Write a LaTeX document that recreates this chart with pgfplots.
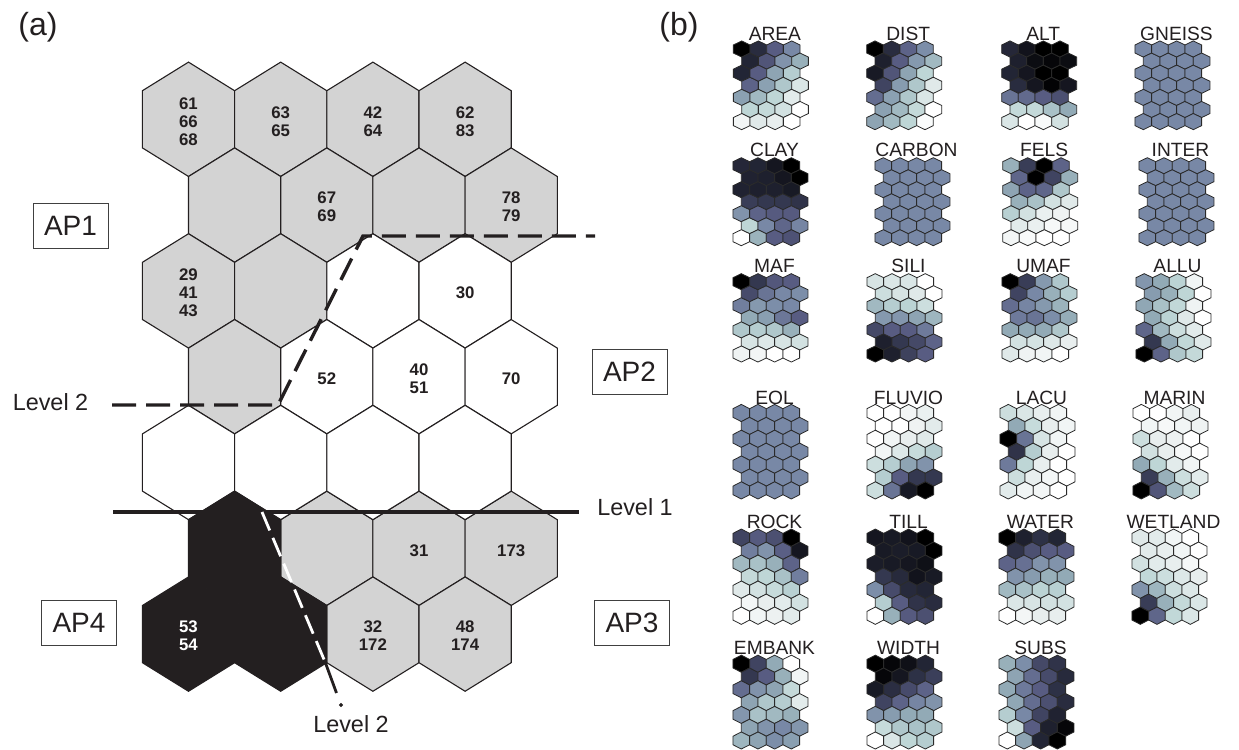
\documentclass[border=0pt]{standalone}
\usepackage{pgfplots}
\pgfplotsset{compat=1.18}
\usepackage{pgfplotstable}
\usepackage{fontspec}
\setmainfont{Liberation Sans}

\definecolor{txt}{HTML}{231F20}
\definecolor{hexgray}{HTML}{D3D3D3}
\definecolor{hexline}{HTML}{2A2A2A}

% pointy-topped hexagon, half-width = mark size
\pgfdeclareplotmark{hexagon}{%
  \pgfpathmoveto{\pgfqpoint{0pt}{1.1547\pgfplotmarksize}}%
  \pgfpathlineto{\pgfqpoint{-\pgfplotmarksize}{0.57735\pgfplotmarksize}}%
  \pgfpathlineto{\pgfqpoint{-\pgfplotmarksize}{-0.57735\pgfplotmarksize}}%
  \pgfpathlineto{\pgfqpoint{0pt}{-1.1547\pgfplotmarksize}}%
  \pgfpathlineto{\pgfqpoint{\pgfplotmarksize}{-0.57735\pgfplotmarksize}}%
  \pgfpathlineto{\pgfqpoint{\pgfplotmarksize}{0.57735\pgfplotmarksize}}%
  \pgfpathclose
  \pgfusepathqfillstroke}

% component planes: row r, columns c1..c4 (0 = low, 10 = high)
\pgfplotstableread{
r c1 c2 c3 c4
1 10 8.5 6.5 5.2
2 8.8 6.8 4.8 3.8
3 8.8 6.5 4.2 2.8
4 6.3 4.3 3.0 1.5
5 4.3 3.5 2.5 1.2
6 2.5 2.3 1.8 0
7 0.5 1.3 1.0 0
}\tAREA
\pgfplotstableread{
r c1 c2 c3 c4
1 10 8.5 6.3 5.0
2 9.0 6.5 4.6 3.5
3 9.2 6.8 4.2 2.5
4 7.5 4.5 3.0 1.3
5 6.0 4.3 3.0 1.5
6 4.3 3.5 2.3 0
7 4.2 3.5 2.5 0.2
}\tDIST
\pgfplotstableread{
r c1 c2 c3 c4
1 8.7 9.4 10 10
2 9.0 9.6 9.8 9.6
3 8.8 9.3 10 10
4 8.5 9.3 9.9 9.3
5 5.8 6.1 6.5 7.0
6 2.3 2.3 3.2 4.0
7 1.5 0 0.3 1.8
}\tALT
\pgfplotstableread{
r c1 c2 c3 c4
1 5.2 5.2 5.2 5.2
2 5.2 5.2 5.2 5.2
3 5.2 5.2 5.2 5.2
4 5.2 5.2 5.2 5.2
5 5.2 5.2 5.2 5.2
6 5.2 5.2 5.2 5.2
7 5.2 5.2 5.2 5.2
}\tGNEISS
\pgfplotstableread{
r c1 c2 c3 c4
1 8.7 8.8 9.3 10
2 8.9 9.0 9.3 10
3 8.9 9.0 9.0 9.2
4 7.8 8.0 8.0 8.2
5 4.8 6.3 6.6 6.6
6 2.5 5.2 6.2 5.3
7 0 3.7 6.5 6.9
}\tCLAY
\pgfplotstableread{
r c1 c2 c3 c4
1 5.2 5.2 5.2 5.2
2 5.2 5.2 5.2 5.2
3 5.2 5.2 5.2 5.2
4 5.2 5.2 5.2 5.2
5 5.2 5.2 5.2 5.2
6 5.2 5.2 5.2 5.2
7 5.2 5.2 5.2 5.2
}\tCARBON
\pgfplotstableread{
r c1 c2 c3 c4
1 3.8 7.8 10 6.3
2 6.2 10 7.5 3.8
3 4.2 6.3 6.2 3.0
4 3.8 3.2 1.8 1.3
5 2.7 1.8 0.9 0.7
6 1.2 0.9 0.4 0.4
7 0.5 0.3 0 0
}\tFELS
\pgfplotstableread{
r c1 c2 c3 c4
1 5.2 5.2 5.2 5.2
2 5.2 5.2 5.2 5.2
3 5.2 5.2 5.2 5.2
4 5.2 5.2 5.2 5.2
5 5.2 5.2 5.2 5.2
6 5.2 5.2 5.2 5.2
7 5.2 5.2 5.2 5.2
}\tINTER
\pgfplotstableread{
r c1 c2 c3 c4
1 10 8.0 6.7 6.5
2 7.2 5.8 5.2 5.0
3 5.5 4.6 5.0 5.2
4 4.0 4.4 5.7 6.5
5 3.0 2.8 3.0 3.8
6 1.6 1.4 1.6 1.8
7 0.7 0.5 0 0
}\tMAF
\pgfplotstableread{
r c1 c2 c3 c4
1 1.6 1.5 1.5 0
2 2.0 1.6 1.3 0
3 3.5 2.8 2.6 2.0
4 4.6 4.7 4.2 3.6
5 7.3 6.5 6.5 5.6
6 9.0 8.0 7.3 6.3
7 10 9.0 7.6 6.5
}\tSILI
\pgfplotstableread{
r c1 c2 c3 c4
1 10 7.8 4.6 3.0
2 7.5 5.2 3.8 2.8
3 6.0 5.3 4.6 3.7
4 5.6 5.8 5.0 3.9
5 4.0 4.0 4.0 3.0
6 1.8 1.7 1.4 1.0
7 1.3 0.7 0.6 0
}\tUMAF
\pgfplotstableread{
r c1 c2 c3 c4
1 4.7 4.0 2.6 0.6
2 4.5 3.8 2.5 0
3 4.1 3.2 2.4 0.7
4 4.0 2.6 1.3 0
5 6.2 3.5 2.0 1.2
6 8.0 4.0 2.4 1.3
7 10 6.3 3.0 2.3
}\tALLU
\pgfplotstableread{
r c1 c2 c3 c4
1 5.2 5.2 5.2 5.2
2 5.2 5.2 5.2 5.2
3 5.2 5.2 5.2 5.2
4 5.2 5.2 5.2 5.2
5 5.2 5.2 5.2 5.2
6 5.2 5.2 5.2 5.2
7 5.2 5.2 5.2 5.2
}\tEOL
\pgfplotstableread{
r c1 c2 c3 c4
1 0 0 0.5 0.9
2 0 0 0.7 1.2
3 0 0.6 1.0 1.3
4 0.6 1.4 2.2 2.8
5 2.0 2.8 4.2 4.8
6 2.8 6.5 8.0 8.0
7 2.0 5.8 9.2 10
}\tFLUVIO
\pgfplotstableread{
r c1 c2 c3 c4
1 2.0 1.5 1.0 0.6
2 4.0 2.2 1.0 0.6
3 10 5.8 1.6 0.6
4 8.2 2.8 1.0 0
5 5.6 2.5 1.0 0
6 2.0 1.0 0.5 0
7 1.2 0.6 0.5 0
}\tLACU
\pgfplotstableread{
r c1 c2 c3 c4
1 0 0 0.6 1.0
2 0.6 0.4 0.6 0.7
3 2.0 1.0 0.8 0
4 1.8 1.0 0.4 0
5 4.0 2.5 1.2 0.6
6 7.8 3.8 2.0 1.2
7 10 6.8 3.5 2.0
}\tMARIN
\pgfplotstableread{
r c1 c2 c3 c4
1 7.5 6.6 7.0 10
2 5.5 4.8 6.4 9.3
3 3.5 3.2 3.8 6.3
4 2.3 2.5 3.2 5.5
5 1.3 1.8 2.2 2.7
6 0.5 1.0 1.2 1.8
7 0 0.6 0.8 1.2
}\tROCK
\pgfplotstableread{
r c1 c2 c3 c4
1 9.3 9.2 9.4 10
2 9.2 9.1 9.2 10
3 9.1 9.2 9.3 9.5
4 8.0 8.6 9.4 9.2
5 5.0 7.2 8.6 8.8
6 2.8 6.5 8.2 8.5
7 0 3.8 6.6 7.0
}\tTILL
\pgfplotstableread{
r c1 c2 c3 c4
1 10 9.0 8.3 8.8
2 8.2 7.0 6.5 6.5
3 6.3 5.9 4.8 4.8
4 4.8 4.5 3.8 4.0
5 3.5 3.2 2.6 2.7
6 1.5 1.6 1.8 1.8
7 0 0.5 1.0 1.0
}\tWATER
\pgfplotstableread{
r c1 c2 c3 c4
1 1.3 1.2 0.6 0
2 1.2 1.0 0.6 0
3 1.8 1.2 1.0 0.4
4 2.4 2.0 1.4 1.0
5 4.8 3.6 2.0 1.4
6 7.8 3.8 2.3 1.5
7 10 6.2 2.4 1.5
}\tWETLAND
\pgfplotstableread{
r c1 c2 c3 c4
1 10 7.5 4.0 0
2 8.0 6.5 3.8 0.6
3 6.0 4.8 4.2 2.3
4 4.2 3.0 2.8 1.2
5 4.7 3.2 3.5 3.8
6 4.2 4.8 5.2 4.7
7 3.6 4.2 5.0 4.4
}\tEMBANK
\pgfplotstableread{
r c1 c2 c3 c4
1 10 9.8 9.5 8.8
2 9.8 9.3 8.3 7.7
3 9.2 8.4 7.2 6.3
4 7.5 6.3 5.3 4.8
5 4.8 4.5 4.0 4.0
6 2.2 3.0 3.2 3.0
7 0 1.5 2.5 2.8
}\tWIDTH
\pgfplotstableread{
r c1 c2 c3 c4
1 3.8 5.0 7.3 8.2
2 4.2 6.0 7.2 8.6
3 4.0 5.6 6.5 8.3
4 4.1 6.0 7.0 8.5
5 2.8 5.2 7.5 8.9
6 2.0 6.5 9.0 9.8
7 0 4.2 8.8 10
}\tSUBS

\pgfplotsset{
  smallhex/.style={scatter, only marks, mark=hexagon, mark size=4.167pt,
    point meta=explicit,
    scatter/use mapped color={draw=hexline, fill=mapped color},
    mark options={line width=0.4pt, yscale=#1/14.43}},
  bighex/.style={only marks, mark=hexagon, mark size=23.05pt,
    mark options={draw=txt, fill=#1, line width=0.55pt, yscale=1.074}},
}
\tikzset{
  maptitle/.style={anchor=base, text=txt, font=\fontsize{9.6}{10}\selectfont, inner sep=0pt},
  cellnum/.style={align=center, text=txt, inner sep=0pt,
    font=\fontsize{8.4}{9}\selectfont\bfseries},
  apbox/.style={draw=black!75, line width=0.5pt, minimum width=37.5pt,
    minimum height=22.5pt, inner sep=0pt, text=txt,
    font=\fontsize{14}{16}\selectfont},
  lvl/.style={text=txt, inner sep=0pt, font=\fontsize{11.7}{13}\selectfont},
}

% #1 table, #2 x of first hex, #3 y of first row, #4 row pitch, #5 title
\newcommand\hexmap[5]{%
  \addplot[smallhex=#4] table[x expr={#2+8.333*mod(\thisrow{r}+1,2)}, y expr={#3+(\thisrow{r}-1)*#4}, meta=c1] {#1};
  \addplot[smallhex=#4] table[x expr={#2+16.667+8.333*mod(\thisrow{r}+1,2)}, y expr={#3+(\thisrow{r}-1)*#4}, meta=c2] {#1};
  \addplot[smallhex=#4] table[x expr={#2+33.333+8.333*mod(\thisrow{r}+1,2)}, y expr={#3+(\thisrow{r}-1)*#4}, meta=c3] {#1};
  \addplot[smallhex=#4] table[x expr={#2+50+8.333*mod(\thisrow{r}+1,2)}, y expr={#3+(\thisrow{r}-1)*#4}, meta=c4] {#1};
  \node[maptitle] at (axis cs:#2+33.2,#3-9) {#5};
}

\begin{document}
\begin{tikzpicture}
\begin{axis}[
  width=619.5pt, height=375pt, scale only axis,
  xmin=0, xmax=1239, ymin=0, ymax=750, y dir=reverse,
  hide axis, clip=false, clip mode=individual,
  point meta min=0, point meta max=10,
  colormap={planes}{
    rgb255(0cm)=(255,255,255) rgb255(1cm)=(232,238,238)
    rgb255(2.5cm)=(190,214,214) rgb255(4cm)=(146,170,182)
    rgb255(5.2cm)=(120,136,166) rgb255(6.5cm)=(88,92,130)
    rgb255(8cm)=(52,56,80) rgb255(9cm)=(30,32,46) rgb255(10cm)=(0,0,0)},
]
\draw[draw=none] (rel axis cs:0,0) rectangle (rel axis cs:1,1);

% ---------- (a) clustered map ----------
\addplot[bighex=hexgray] coordinates {
  (188.5,119.3) (280.7,119.3) (372.9,119.3) (465.1,119.3)
  (234.6,205.1) (326.8,205.1) (419,205.1) (511.2,205.1)
  (188.5,290.9) (280.7,290.9)
  (234.6,376.7)
  (326.8,548.3) (419,548.3) (511.2,548.3)
  (372.9,634.1) (465.1,634.1)};
\addplot[bighex=white] coordinates {
  (372.9,290.9) (465.1,290.9)
  (326.8,376.7) (419,376.7) (511.2,376.7)
  (188.5,462.5) (280.7,462.5) (372.9,462.5) (465.1,462.5)};
\addplot[bighex=txt] coordinates {
  (234.6,548.3) (188.5,634.1) (280.7,634.1)};

% cluster boundaries
\addplot[txt, line width=1.7pt] coordinates {(113,512) (579,512)};
\addplot[txt, line width=1.7pt, dash pattern=on 12pt off 5pt] coordinates {
  (112,405) (278,405) (363,236) (595,236)};
\addplot[white, line width=1.4pt, dash pattern=on 10pt off 4pt] coordinates {
  (262,512) (325.5,663)};
\addplot[txt, line width=1.4pt] coordinates {(325.5,663) (336.5,693)};
\addplot[only marks, mark=*, mark size=0.8pt, txt] coordinates {(341,705)};

\node[cellnum] at (axis cs:188.5,121.3) {61\\66\\68};
\node[cellnum] at (axis cs:280.7,121.3) {63\\65};
\node[cellnum] at (axis cs:372.9,121.3) {42\\64};
\node[cellnum] at (axis cs:465.1,121.3) {62\\83};
\node[cellnum] at (axis cs:326.8,207.1) {67\\69};
\node[cellnum] at (axis cs:511.2,207.1) {78\\79};
\node[cellnum] at (axis cs:188.5,292.9) {29\\41\\43};
\node[cellnum] at (axis cs:465.1,292.9) {30};
\node[cellnum] at (axis cs:326.8,378.7) {52};
\node[cellnum] at (axis cs:419,378.7) {40\\51};
\node[cellnum] at (axis cs:511.2,378.7) {70};
\node[cellnum] at (axis cs:419,550.3) {31};
\node[cellnum] at (axis cs:511.2,550.3) {173};
\node[cellnum, text=white] at (axis cs:188.5,636.1) {53\\54};
\node[cellnum] at (axis cs:372.9,636.1) {32\\172};
\node[cellnum] at (axis cs:465.1,636.1) {48\\174};

\node[text=txt, inner sep=0pt, font=\fontsize{16}{18}\selectfont] at (axis cs:38,27) {(a)};
\node[text=txt, inner sep=0pt, font=\fontsize{16}{18}\selectfont] at (axis cs:679,27) {(b)};
\node[apbox] at (axis cs:70.5,225.5) {AP1};
\node[apbox] at (axis cs:629.5,371.5) {AP2};
\node[apbox] at (axis cs:632,623) {AP3};
\node[apbox] at (axis cs:79,623) {AP4};
\node[lvl] at (axis cs:50.5,402) {Level 2};
\node[lvl] at (axis cs:635,507) {Level 1};
\node[lvl] at (axis cs:351,724) {Level 2};

% ---------- (b) component planes ----------
\hexmap{\tAREA}{741.7}{49}{12.1}{AREA}
\hexmap{\tDIST}{875}{49}{12.1}{DIST}
\hexmap{\tALT}{1010}{49}{12.1}{ALT}
\hexmap{\tGNEISS}{1143.3}{49}{12.1}{GNEISS}

\hexmap{\tCLAY}{741.3}{165.7}{12}{CLAY}
\hexmap{\tCARBON}{883.3}{165.7}{12}{CARBON}
\hexmap{\tFELS}{1011}{165.7}{12}{FELS}
\hexmap{\tINTER}{1147.3}{165.7}{12}{INTER}

\hexmap{\tMAF}{741.3}{281.7}{12.05}{MAF}
\hexmap{\tSILI}{875.3}{281.7}{12.05}{SILI}
\hexmap{\tUMAF}{1010.3}{281.7}{12.05}{UMAF}
\hexmap{\tALLU}{1144.3}{281.7}{12.05}{ALLU}

\hexmap{\tEOL}{741.3}{413}{12.9}{EOL}
\hexmap{\tFLUVIO}{875.3}{413}{12.9}{FLUVIO}
\hexmap{\tLACU}{1008.3}{413}{12.9}{LACU}
\hexmap{\tMARIN}{1141.3}{413}{12.9}{MARIN}

\hexmap{\tROCK}{741.3}{537.7}{13}{ROCK}
\hexmap{\tTILL}{875.3}{537.7}{13}{TILL}
\hexmap{\tWATER}{1007.3}{537.7}{13}{WATER}
\hexmap{\tWETLAND}{1140.3}{537.7}{13}{WETLAND}

\hexmap{\tEMBANK}{741.3}{663.7}{12.8}{EMBANK}
\hexmap{\tWIDTH}{875.3}{663.7}{12.8}{WIDTH}
\hexmap{\tSUBS}{1007.3}{663.7}{12.8}{SUBS}
\end{axis}
\end{tikzpicture}
\end{document}
